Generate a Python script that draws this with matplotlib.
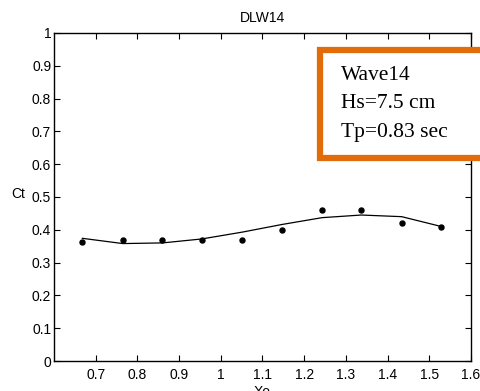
import matplotlib
matplotlib.use('Agg')
import matplotlib.pyplot as plt
from matplotlib.patches import Rectangle
import numpy as np

# measured transmission coefficient vs relative position
xo = [0.668, 0.765, 0.860, 0.954, 1.052, 1.146, 1.243, 1.337, 1.434, 1.529]
ct_meas = [0.362, 0.370, 0.370, 0.370, 0.370, 0.400, 0.461, 0.461, 0.420, 0.410]
# fitted curve through the same positions
ct_fit = [0.374, 0.358, 0.360, 0.372, 0.393, 0.416, 0.437, 0.445, 0.440, 0.410]

xticks = [0.7, 0.8, 0.9, 1.0, 1.1, 1.2, 1.3, 1.4, 1.5, 1.6]
yticks = [0, 0.1, 0.2, 0.3, 0.4, 0.5, 0.6, 0.7, 0.8, 0.9, 1.0]
info_lines = ['Wave14', 'Hs=7.5 cm', 'Tp=0.83 sec']

plt.rcParams['font.family'] = ['Liberation Sans', 'DejaVu Sans']

fig = plt.figure(figsize=(4.81, 3.91), dpi=100)
ax = fig.add_axes([0.1123, 0.0767, 0.8667, 0.839])

ax.plot(xo, ct_fit, color='black', lw=0.9)
ax.plot(xo, ct_meas, 'o', color='black', ms=3.6)

ax.set_xlim(0.6, 1.6)
ax.set_ylim(0, 1)
ax.set_xticks(xticks)
ax.set_xticklabels(['%g' % v for v in xticks])
ax.set_yticks(yticks)
ax.set_yticklabels(['%g' % v for v in yticks])
ax.tick_params(direction='in', top=True, right=True, length=4, width=0.8,
               labelsize=10)
ax.tick_params(axis='x', pad=5)
ax.tick_params(axis='y', pad=2)
for sp in ax.spines.values():
    sp.set_linewidth(1.0)

ax.set_title('DLW14', fontsize=10, pad=8)
ax.set_xlabel('Xo', fontsize=10, labelpad=2)
ax.set_ylabel('Ct', fontsize=10, rotation=0, va='center', ha='center')
ax.yaxis.set_label_coords(-0.087, 0.51)

# annotation box with wave parameters, hanging off the right edge
box = Rectangle((320 / 481, 1 - 158 / 391), 166 / 481, 108 / 391,
                transform=fig.transFigure, facecolor='white',
                edgecolor='#E36C0A', lw=4.5, clip_on=False, zorder=5)
fig.patches.append(box)
for i, txt in enumerate(info_lines):
    fig.text(341 / 481, 1 - (80 + 28.5 * i) / 391, txt, fontsize=15.5,
             family='Liberation Serif', zorder=6)

fig.savefig('out.png', dpi=100)
